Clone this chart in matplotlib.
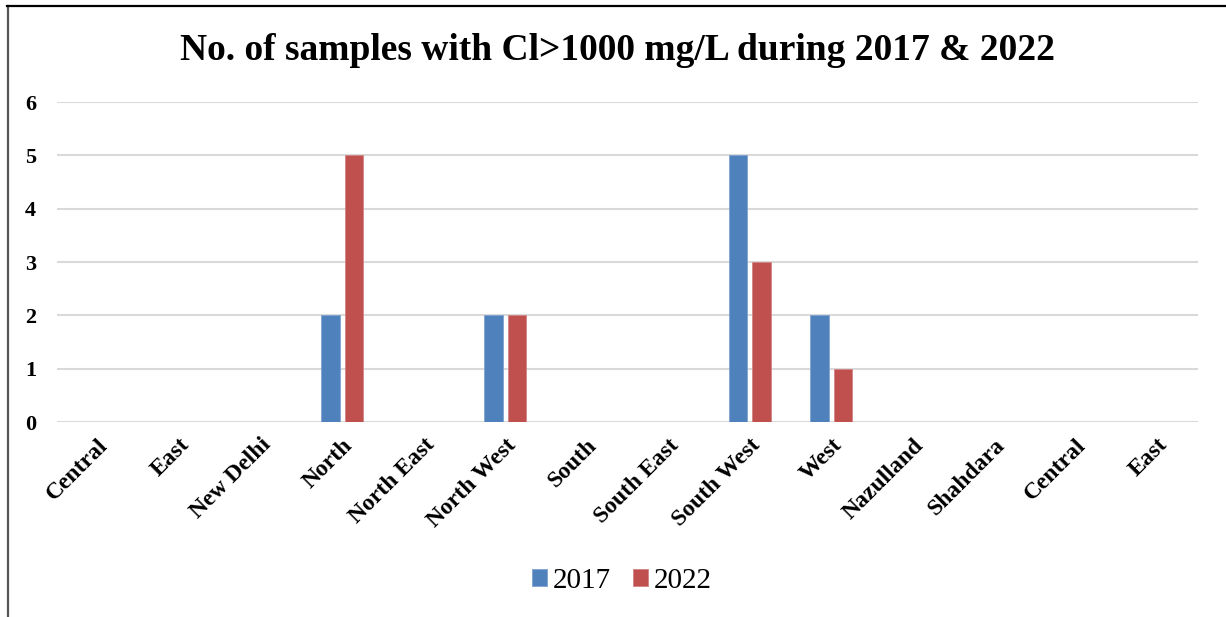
import numpy as np
import matplotlib
matplotlib.use("Agg")
import matplotlib.pyplot as plt
from matplotlib.lines import Line2D

districts = ["Central", "East", "New Delhi", "North", "North East", "North West",
             "South", "South East", "South West", "West", "Nazulland", "Shahdara",
             "Central", "East"]
y2017 = [0, 0, 0, 2, 0, 2, 0, 0, 5, 2, 0, 0, 0, 0]
y2022 = [0, 0, 0, 5, 0, 2, 0, 0, 3, 1, 0, 0, 0, 0]
yticks = [0, 1, 2, 3, 4, 5, 6]

plt.rcParams["font.family"] = ["Liberation Serif", "DejaVu Serif"]

fig = plt.figure(figsize=(12.26, 6.17), dpi=100)
ax = fig.add_axes([57 / 1226, 1 - 422 / 617, (1198 - 57) / 1226, 320 / 617])

x = np.arange(len(districts))
w = 0.225
off = 0.145
ax.bar(x - off, y2017, w, color="#4F81BD", edgecolor="#7FA3D0", linewidth=0.6,
       label="2017", zorder=3)
ax.bar(x + off, y2022, w, color="#C0504D", edgecolor="#D38583", linewidth=0.6,
       label="2022", zorder=3)

ax.set_xlim(-0.5, len(districts) - 0.5)
ax.set_ylim(0, 6)
ax.set_yticks(yticks)
ax.set_yticklabels([str(t) for t in yticks], fontsize=16, fontweight="bold")
ax.set_xticks(x)
ax.set_xticklabels(districts, rotation=45, ha="right", rotation_mode="anchor",
                   fontsize=17, fontweight="bold")
ax.tick_params(length=0, axis="both")
ax.tick_params(axis="y", pad=15)
ax.tick_params(axis="x", pad=9)
ax.grid(axis="y", color="#D9D9D9", linewidth=1.5, zorder=0)
for s in ax.spines.values():
    s.set_visible(False)

fig.text(617 / 1226, 1 - 51 / 617, "No. of samples with Cl>1000 mg/L during 2017 & 2022",
         ha="center", va="center", fontsize=27, fontweight="bold")

fig.legend(loc="center", bbox_to_anchor=(622 / 1226, 1 - 581 / 617), ncol=2,
           frameon=False, fontsize=21, handlelength=0.52, handleheight=0.52,
           handletextpad=0.2, columnspacing=0.75)

# outer chart border (left and top edges)
fig.add_artist(Line2D([7.5 / 1226, 7.5 / 1226], [0, 1 - 6 / 617], color="#555555",
                      linewidth=1.6, transform=fig.transFigure))
fig.add_artist(Line2D([7 / 1226, 1], [1 - 6 / 617, 1 - 6 / 617], color="black",
                      linewidth=1.6, transform=fig.transFigure))

fig.savefig("out.png", dpi=100)
